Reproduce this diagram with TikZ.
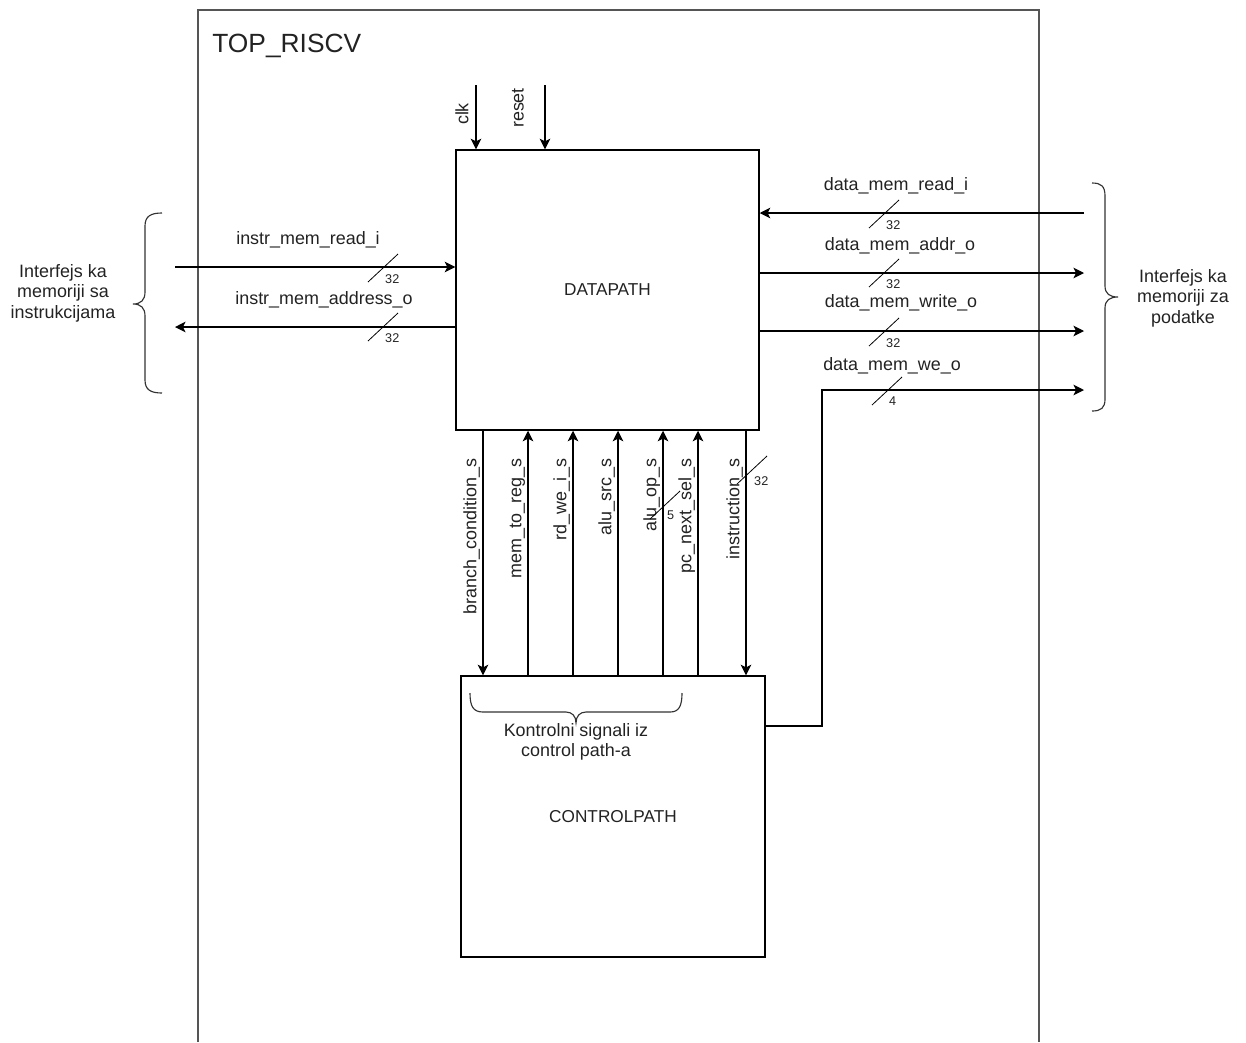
\documentclass[tikz,border=0pt]{standalone}
\usepackage{fontspec}
\setmainfont{Liberation Sans}
\usetikzlibrary{arrows.meta, positioning, calc}
\definecolor{labelgray}{HTML}{222222}
\definecolor{framegray}{HTML}{555555}

\begin{document}
\begin{tikzpicture}[
            x=0.02cm, y=-0.02cm,
            block/.style={draw=black, line width=0.85pt, minimum width=6.06cm, minimum height=5.6cm, font=\fontsize{9.8}{11.6}\selectfont, text=labelgray},
            wire/.style={draw=black, line width=0.75pt},
            tocp/.style={-{Stealth[length=6pt, width=6pt, inset=1.5pt]}},
            todp/.style={{Stealth[length=6pt, width=6pt, inset=1.5pt]}-},
            siglabel/.style={rotate=90, inner sep=0.8pt, font=\fontsize{10.2}{11.6}\selectfont, text=labelgray},
            wirelabel/.style={inner sep=1pt, font=\fontsize{10.2}{11.6}\selectfont, text=labelgray},
            buscut/.style={draw=black, line width=0.45pt},
            buswidth/.style={inner sep=0.5pt, font=\fontsize{7.2}{8}\selectfont, text=labelgray},
            note/.style={align=center, inner sep=1pt, font=\fontsize{10.2}{11.6}\selectfont, text=labelgray},
            bracket/.style={draw=black!80, line width=0.65pt}
        ]
          \useasboundingbox (0,0) rectangle (1246,1042);

          % top level container
          \draw[framegray, line width=1.1pt] (198,1042) |- (1039,10) -- (1039,1042);
          \node[anchor=base west, inner sep=0pt, font=\fontsize{15}{18}\selectfont, text=labelgray] (top) at (212,52) {TOP\_RISCV};

          \node[block] (dp) at (607.5,290) {DATAPATH};
          \node[block, minimum width=6.08cm, minimum height=5.62cm] (cp) at (613,816.5) {CONTROLPATH};

          % clock and reset
          \coordinate (clkT) at (476,85);
          \coordinate (rstT) at (545,85);
          \draw[wire, tocp] (clkT) -- (clkT |- dp.north);
          \draw[wire, tocp] (rstT) -- (rstT |- dp.north);
          \node[siglabel] (clk) at (462,114) {clk};
          \node[siglabel] (rst) at (518,108) {reset};

          % instruction memory side
          \coordinate (imr) at (175,267);
          \coordinate (ima) at (175,327);
          \draw[wire, tocp] (imr) -- (imr -| dp.west);
          \draw[wire, tocp] (ima -| dp.west) -- (ima);
          \node[wirelabel] (imrl) at (308,240) {instr\_mem\_read\_i};
          \node[wirelabel] (imal) at (324,300) {instr\_mem\_address\_o};

          % data memory side
          \coordinate (dmr) at (1084,213);
          \coordinate (dma) at (1084,273);
          \coordinate (dmw) at (1084,331);
          \coordinate (dmwe) at (1084,390);
          \coordinate (weK) at (822,726);
          \draw[wire, tocp] (dmr) -- (dmr -| dp.east);
          \draw[wire, tocp] (dma -| dp.east) -- (dma);
          \draw[wire, tocp] (dmw -| dp.east) -- (dmw);
          \draw[wire, tocp] (cp.east |- weK) -- (weK) -- (weK |- dmwe) -- (dmwe);
          \node[wirelabel] (dmrl) at (896,186) {data\_mem\_read\_i};
          \node[wirelabel] (dmal) at (900,246) {data\_mem\_addr\_o};
          \node[wirelabel] (dmwl) at (901,303) {data\_mem\_write\_o};
          \node[wirelabel] (dmwel) at (892,366) {data\_mem\_we\_o};

          % signals between datapath and controlpath
          \foreach \px/\sig/\tip [count=\i] in {483/branch\_condition\_s/tocp, 528/mem\_to\_reg\_s/todp, 573/rd\_we\_i\_s/todp, 618/alu\_src\_s/todp, 663/alu\_op\_s/todp, 698/pc\_next\_sel\_s/todp, 746/instruction\_s/tocp}{
            \coordinate (s\i) at (\px,457);
            \node[siglabel, anchor=south east] (sl\i) at ([xshift=-0.7pt]s\i) {\sig};
            \draw[wire, \tip] (dp.south -| s\i) -- (cp.north -| s\i);
          }

          % bus widths
          \foreach \bx/\by/\w [count=\j] in {383/268/32, 383/327/32, 884/214/32, 884/273/32, 884/332/32, 887/391/4, 665/505/5, 752/470/32}{
            \coordinate (bus\j) at (\bx,\by);
            \draw[buscut] ($(bus\j)+(-15,14)$) -- ($(bus\j)+(15,-14)$);
            \node[buswidth, anchor=north west] (bw\j) at ($(bus\j)+(1,5)$) {\w};
          }

          % interface brackets
          \draw[bracket] (162,213) .. controls (151,213) and (145,216) .. (145,226) -- (145,292)
              .. controls (145,300) and (141,304) .. (133,304) .. controls (141,304) and (145,308) .. (145,316)
              -- (145,380) .. controls (145,390) and (151,393) .. (162,393);
          \node[note] (iml) at (63,293) {Interfejs ka\\memoriji sa\\instrukcijama};

          \draw[bracket] (1092,183) .. controls (1101,183) and (1105,186) .. (1105,196) -- (1105,286)
              .. controls (1105,294) and (1110,297) .. (1118,297) .. controls (1110,297) and (1105,300) .. (1105,308)
              -- (1105,399) .. controls (1105,408) and (1101,411) .. (1092,411);
          \node[note] (dml) at (1183,298) {Interfejs ka\\memoriji za\\podatke};

          \draw[bracket] (470,693) .. controls (470,706) and (473,712) .. (483,712) -- (566,712)
              .. controls (572,712) and (576,716) .. (576,723) .. controls (576,716) and (580,712) .. (586,712)
              -- (670,712) .. controls (679,712) and (682,706) .. (682,693);
          \node[note] (cbl) at (576,742) {Kontrolni signali iz\\control path-a};
        \end{tikzpicture}
\end{document}
